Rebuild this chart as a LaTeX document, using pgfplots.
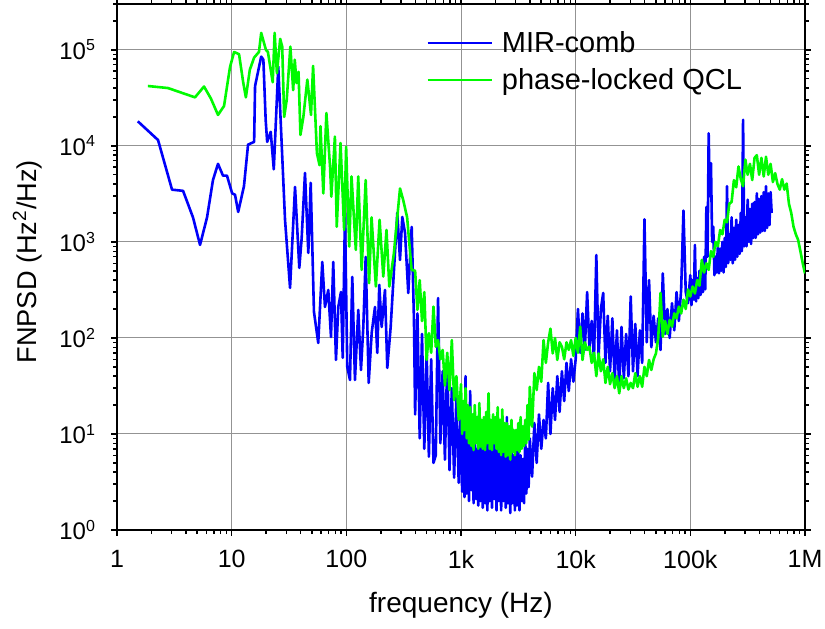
\documentclass[border=0pt]{standalone}
\usepackage{fontspec}
\setmainfont{Liberation Sans}
\usepackage{pgfplots}
\pgfplotsset{compat=1.18}
\definecolor{cblue}{RGB}{0,0,250}
\definecolor{cgreen}{RGB}{0,250,0}
\begin{document}
\begin{tikzpicture}
\useasboundingbox (-58.5pt,-49pt) rectangle (354pt,265pt);
\begin{axis}[
  at={(0,0)}, anchor=south west,
  width=344pt, height=263pt, scale only axis,
  xmode=log, ymode=log,
  xmin=1, xmax=1e6, ymin=1, ymax=3e5,
  axis line style={line width=0.9pt},
  xtick={1,10,100,1000,10000,100000,1000000},
  xticklabels={1,10,100,1k,10k,100k,1M},
  minor xtick={2,3,4,5,6,7,8,9,20,30,40,50,60,70,80,90,200,300,400,500,600,700,800,900,2000,3000,4000,5000,6000,7000,8000,9000,2e4,3e4,4e4,5e4,6e4,7e4,8e4,9e4,2e5,3e5,4e5,5e5,6e5,7e5,8e5,9e5},
  ytick={1,10,100,1000,10000,100000},
  yticklabels={10\textsuperscript{0},10\textsuperscript{1},10\textsuperscript{2},10\textsuperscript{3},10\textsuperscript{4},10\textsuperscript{5}},
  minor ytick={2,3,4,5,6,7,8,9,20,30,40,50,60,70,80,90,200,300,400,500,600,700,800,900,2000,3000,4000,5000,6000,7000,8000,9000,2e4,3e4,4e4,5e4,6e4,7e4,8e4,9e4,2e5,3e5},
  tick align=outside,
  major tick length=3pt, minor tick length=2pt,
  tick style={line width=0.7pt, black},
  grid=major,
  major grid style={line width=0.5pt, gray!85},
  tick label style={font=\fontsize{12.5pt}{15pt}\selectfont},
  xticklabel style={yshift=-3.5pt},
  yticklabel style={xshift=-4pt, font=\fontsize{12pt}{14pt}\selectfont},
  xlabel={frequency (Hz)},
  ylabel={FNPSD (Hz\textsuperscript{2}/Hz)},
  xlabel style={at={(axis description cs:0.5,-0.1426)}, anchor=center, font=\fontsize{14pt}{16pt}\selectfont},
  ylabel style={at={(axis description cs:-0.13,0.51)}, anchor=center, rotate=0, font=\fontsize{13.6pt}{16pt}\selectfont},
  legend style={at={(0.45,0.957)}, anchor=north west, draw=none, fill=none,
    font=\fontsize{14.5pt}{16.5pt}\selectfont, row sep=2.5pt, inner sep=0pt},
  legend cell align=left,
  legend image code/.code={\draw[#1, line width=0.6pt] (0pt,0pt) -- (32pt,0pt); \path (34.5pt,0pt);},
]
\addplot[cblue, line width=1.3pt, line join=round] coordinates {
(1.52,1.8e4)(2.28,1.15e4)(3.02,3.5e3)(3.77,3.4e3)(4.6,1.8e3)(5.3,930)(6.1,1.8e3)(6.87,4.4e3)(7.6,6.5e3)(8.4,4.9e3)(9.1,4.9e3)(10.1,3.2e3)(10.7,3.1e3)(11.4,2.05e3)(12.8,3.8e3)(13.9,1.03e4)(15.7,1.1e4)(16,4.2e4)(18.1,8.5e4)(18.9,7.9e4)(19.8,1.86e4)(20.4,1.1e4)(21.9,1.4e4)(23.3,5.7e3)(25.5,6.7e4)(29.2,1.7e3)(32.3,332)(35.7,3740)(38.9,536)(40.8,1100)(43.6,5230)(46.6,768)(48.9,4120)(52.2,187)(56.9,88.7)(61.7,619)(65.1,210)(69.6,316)(73.5,102)(76.9,619)(81.2,59)(85.1,210)(89.8,301)(93.0,62)(97.3,2004)(101.9,49.9)(107.6,36.5)(112.7,432)(118.9,36.5)(127.1,196)(134.2,46.4)(140.6,130)(147.5,698)(156.7,34)(166.4,113)(177.8,210)(186.2,69.8)(193.8,357)(203.3,130)(217.3,316)(227.6,48.7)(243.6,130)(260.4,511)(278.3,2004)(293.8,649)(307.6,1820)(325,1241)(346.9,294)(371.5,1432)(389,154)
(398.1,16)(416.9,180)(436.5,9)(457.1,110)(478.6,7)(501.2,75)(524.8,5.8)(549.5,60)(575.4,5)(602.6,6)(631.0,260)(660.7,8)(691.8,45)(724.4,5.4)(758.6,60)(794.3,4.2)(831.8,30)(871.0,3.5)(912.0,25)(955.0,3.1)
(1000,20)(1023,2.5)(1047,12)(1072,2.2)(1096,40)(1122,2.4)(1148,9)(1175,2.0)(1202,28)(1230,2.6)(1259,8)(1288,1.9)(1318,10)(1349,2.1)(1380,7)(1413,1.8)(1445,14)(1479,2.0)(1514,9)(1549,1.7)(1585,8)(1622,1.9)(1660,10)(1698,1.6)(1738,11)(1778,2.0)(1820,7)(1862,1.7)(1905,9)(1950,2.1)(1995,8)(2042,1.6)(2089,12)(2138,2.0)(2188,7)(2239,1.6)(2291,8)(2344,2.0)(2399,6.5)(2455,1.7)(2512,15)(2570,1.9)(2630,7)(2692,1.5)(2754,8)(2818,1.9)(2884,6)(2951,1.6)(3020,7)(3090,1.8)(3162,6.5)(3236,1.6)(3311,6)(3388,2.0)(3467,5.5)(3548,1.9)(3631,10)(3715,2.4)(3802,7)(3890,2.8)(3981,9)
(4169,3.6)(4365,13)(4571,5)(4786,16)(5012,7)(5248,14)(5495,9)(5754,34)(6026,10)(6310,30)(6607,14)(6918,40)(7244,17)(7586,45)(7943,22)(8318,55)(8710,28)(9120,60)(9550,35)
(10000,60)(10470,200)(10960,70)(11480,180)(12020,75)(12590,300)(13180,80)(13800,150)(14450,60)(15140,730)(15850,65)(16600,200)(17380,294)(18200,55)(19050,170)(19950,45)(20890,160)(21880,35)(22910,120)(23990,30)(25120,130)(26300,38)(27540,110)(28840,40)(30200,270)(31620,45)(33110,140)(34670,40)(36310,120)(38020,55)(39810,1720)(41690,90)(43650,400)(45710,80)(47860,170)(50120,90)(52480,160)(54950,75)(57540,470)(60260,110)(63100,200)(66070,100)(69180,230)(72440,120)(75860,300)(79430,150)(83180,320)(87100,2120)(91200,300)(95500,230)
(100000,450)(102300,220)(104700,400)(107200,250)(109600,930)(112200,240)(114800,420)(117500,260)(120200,500)(123000,280)(125900,480)(128800,300)(131800,700)(134900,320)(138000,2300)(141300,700)(144500,1.35e4)(147900,3000)(151400,6600)(154900,1000)(158500,1440)(162200,450)(166000,700)(169800,480)(173800,900)(177800,470)(182000,850)(186200,500)(190500,1000)(195000,480)(199500,1100)(204200,550)(208900,3800)(213800,600)(218800,1200)(223900,650)(229100,1800)(234400,600)(239900,1400)(245500,650)(251200,1700)(257000,700)(263000,1500)(269200,750)(275400,2000)(281800,800)(288400,1.87e4)(295100,900)(302000,1800)(309000,900)(316200,2750)(323600,1000)(331100,2200)(338800,950)(346700,2500)(354800,1100)(363100,2600)(371500,1100)(380200,3200)(389000,1200)(398100,2800)(407400,1250)(416900,3000)(426600,1300)(436500,3300)(446700,1300)(457100,3800)(467700,1400)(478600,3200)(489800,1500)(501200,3300)(512000,2000)
};
\addlegendentry{MIR-comb}
\addplot[cgreen, line width=1.3pt, line join=round] coordinates {
(1.86,4.2e4)(2.78,4.0e4)(4.79,3.2e4)(5.74,4.15e4)(6.6,3.1e4)(7.6,2.1e4)(8.58,2.6e4)(9.67,6.6e4)(10.5,9.5e4)(11.6,9.0e4)(12.6,4.6e4)(13.3,3.2e4)(14.4,6.2e4)(15.7,8.3e4)(17.3,9.5e4)(18.1,1.5e5)(19.9,1.0e5)(20.7,9.5e4)(22.8,4.6e4)(23.7,1.5e5)(24.8,5.7e4)(26.5,1.3e5)(27.6,1.08e5)(28.7,2.0e4)(30.2,3.0e4)(32.5,1.08e5)(34.4,3.8e4)(35.5,7.9e4)(36.8,4.5e4)(38.3,5.9e4)(39.8,1.3e4)(42.2,2.0e4)(45.7,4.9e4)(49.2,2.1e4)(51.3,6.8e4)(55.4,8.4e3)(58.4,6.3e3)(59.5,1.6e4)(63,3.2e3)(67,2.2e4)(72.1,6.1e3)(74,2.96e3)(79.5,1.25e4)(82.5,1.44e3)(89,1.07e4)(95.7,1.33e3)(99.6,9.8e3)(106,895)(111,4.8e3)(121,826)(127,4.8e3)(136,511)(147.5,4.4e3)(158,372)(166,1.8e3)(181,343)(195,1.7e3)(210,436)(224,1.33e3)(237,343)(260,764)(273,1.44e3)(294,3.6e3)(314,2.7e3)(339,1.8e3)(371,511)
(398.1,500)(416.9,196)(436.5,400)(457.1,150)(478.6,300)(501.2,59)(524.8,112)(549.5,70)(575.4,212)(602.6,81)(631.0,95)(660.7,60)(691.8,75)(724.4,32)(758.6,70)(794.3,28.7)(831.8,95)(871.0,22.5)(912.0,40)(955.0,14)
(1000,33)(1023,10)(1047,22)(1072,11)(1096,30)(1122,9)(1148,20)(1175,8)(1202,19)(1230,7.5)(1259,16)(1288,6.8)(1318,20)(1349,8)(1380,15)(1413,7)(1445,21)(1479,7.4)(1514,14)(1549,7)(1585,15)(1622,6.8)(1660,17)(1698,8)(1738,26.5)(1778,7)(1820,14)(1862,6.8)(1905,16)(1950,8)(1995,15)(2042,7)(2089,19)(2138,6.5)(2188,14)(2239,6)(2291,18)(2344,6.5)(2399,13)(2455,5.8)(2512,13)(2570,6)(2630,12)(2692,5.4)(2754,14)(2818,6.5)(2884,11)(2951,6)(3020,11)(3090,6.8)(3162,13)(3236,6.5)(3311,15)(3388,7)(3467,12)(3548,7.5)(3631,14)(3715,8)(3802,20)(3890,8.7)(3981,31)
(4169,11.9)(4365,43)(4571,28.7)(4786,50)(5012,35)(5248,95)(5495,55)(5754,90)(6026,125)(6310,69)(6607,100)(6918,59)(7244,90)(7586,81)(7943,60)(8318,90)(8710,75)(9120,95)(9550,65)
(10000,100)(10470,70)(10960,131)(11480,59)(12020,90)(12590,75)(13180,81)(13800,55)(14450,70)(15140,40)(15850,69)(16600,45)(17380,60)(18200,34)(19050,50)(19950,33)(20890,43)(21880,30)(22910,40)(23990,26.5)(25120,40)(26300,30)(27540,38)(28840,29)(30200,34)(31620,30)(33110,43)(34670,31)(36310,40)(38020,31)(39810,50)(41690,40)(43650,59)(45710,46.4)(47860,60)(50120,69)(52480,100)(54950,294)(57540,103)(60260,150)(63100,110)(66070,154)(69180,131)(72440,180)(75860,160)(79430,212)(83180,180)(87100,250)(91200,200)(95500,320)
(100000,270)(104700,343)(109600,290)(114800,400)(120200,350)(125900,649)(131800,480)(138000,600)(144500,511)(151400,800)(158500,700)(166000,1000)(173800,900)(182000,1330)(190500,1200)(199500,1700)(208900,1600)(218800,2500)(229100,2600)(239900,4400)(251200,3700)(263000,6100)(275400,4500)(288400,3800)(302000,7200)(316200,5000)(331100,6500)(346700,4400)(363100,7500)(380200,8000)(398100,5000)(416900,7500)(436500,4800)(457100,7700)(478600,5000)(501200,6500)(524800,4200)(549500,5200)(575400,4000)(602600,3500)(631000,4500)(660700,3500)(691800,4050)(724400,2500)(758600,2000)(794300,1440)(831800,1200)(871000,1050)(912000,800)(955000,600)(1000000,470)
};
\addlegendentry{phase-locked QCL}
\end{axis}
\end{tikzpicture}
\end{document}
